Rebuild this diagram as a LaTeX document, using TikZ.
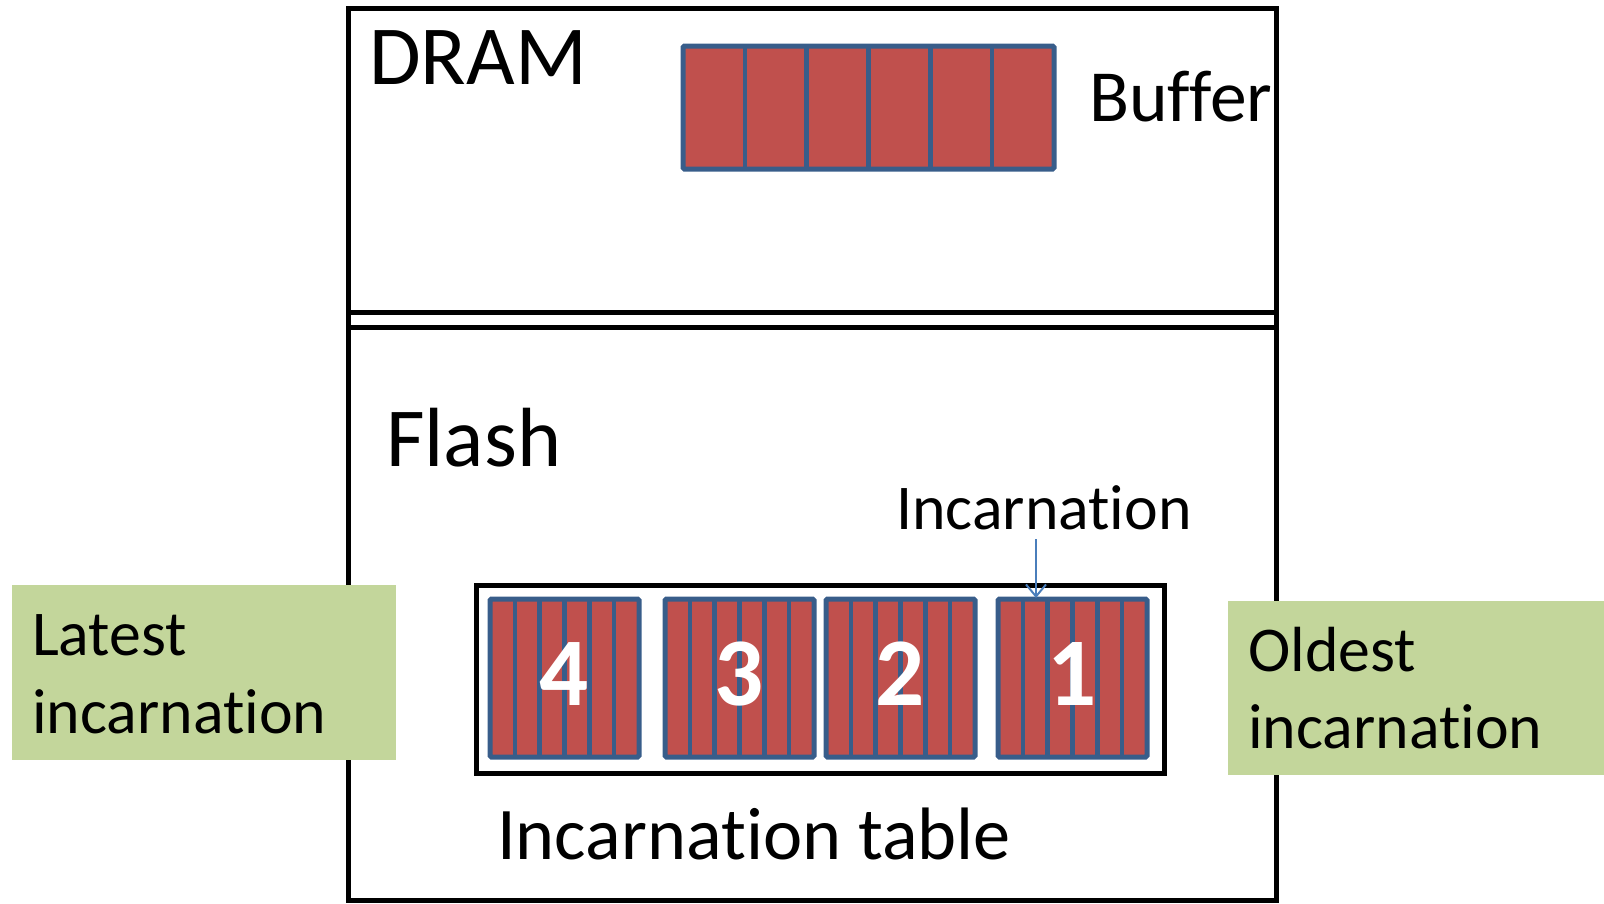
\documentclass[tikz,border=0pt]{standalone}
\usepackage{fontspec}
\setmainfont{Carlito}[Ligatures=NoCommon]
\usetikzlibrary{arrows.meta}
\definecolor{cellred}{HTML}{C0504D}
\definecolor{cellblue}{HTML}{385D8A}
\definecolor{notegreen}{HTML}{C3D69B}
\definecolor{arrowblue}{HTML}{4A7EBB}
\begin{document}
\begin{tikzpicture}[x=1pt,y=-1pt,
  frame/.style={draw=black,line width=5pt},
  cellrow/.style={fill=cellred,draw=cellblue,line width=5pt,rounded corners=1.5pt},
  divider/.style={draw=cellblue,line width=4.5pt},
  note/.style={fill=notegreen,draw=none},
  lbl/.style={inner sep=0pt,anchor=base west},
  digit/.style={inner sep=0pt,anchor=base,text=white,font=\bfseries\fontsize{97}{97}\selectfont}]
\useasboundingbox (0,0) rectangle (1604,903);

% memory regions
\draw[frame] (348,8) rectangle (1276,312);
\draw[frame] (348,327) rectangle (1276,900);
\draw[frame] (348,312) -- (348,327);
\draw[frame] (1276,312) -- (1276,327);

\node[lbl,font=\fontsize{84}{84}\selectfont] (dram) at (369,84) {DRAM};
\node[lbl,font=\fontsize{84}{84}\selectfont] (flash) at (386,466) {Flash};

% buffer in DRAM
\draw[cellrow] (683,46) rectangle (1054,169);
\foreach \k in {1,...,5} \draw[divider] ({683+\k*61.83},46) -- ++(0,123);
\node[lbl,font=\fontsize{73.5}{73.5}\selectfont] (buffer) at (1089,121) {Buffer};

% incarnation table
\draw[frame] (476,585) rectangle (1164,773);
\foreach \x/\n in {490/4,665/3,826/2,998/1} {
  \draw[cellrow] (\x,599) rectangle ++(149,158);
  \foreach \k in {1,...,5} \draw[divider] ({\x+\k*24.83},599) -- ++(0,158);
  \node[digit] (inc\n) at ({\x+74.5},705) {\n};
}
\node[lbl,font=\fontsize{74.3}{74.3}\selectfont] (tablelbl) at (497,859) {Incarnation table};

% pointer to a single incarnation
\node[lbl,font=\fontsize{63.8}{63.8}\selectfont] (inclbl) at (896,529) {Incarnation};
\coordinate (arrtail) at (1036,539);
\coordinate (arrhead) at (1036,598);
\draw[arrowblue,line width=2pt,-{Straight Barb[length=12pt,width=20pt]}] (arrtail) -- (arrhead);

% age notes
\fill[note] (12,585) rectangle (396,760);
\node[lbl,font=\fontsize{63.8}{63.8}\selectfont] (latest1) at (32,655) {Latest};
\node[lbl,font=\fontsize{63.8}{63.8}\selectfont] (latest2) at (32,733) {incarnation};

\fill[note] (1228,601) rectangle (1604,775);
\node[lbl,font=\fontsize{63.8}{63.8}\selectfont] (oldest1) at (1248,671) {Oldest};
\node[lbl,font=\fontsize{63.8}{63.8}\selectfont] (oldest2) at (1248,748) {incarnation};
\end{tikzpicture}
\end{document}
